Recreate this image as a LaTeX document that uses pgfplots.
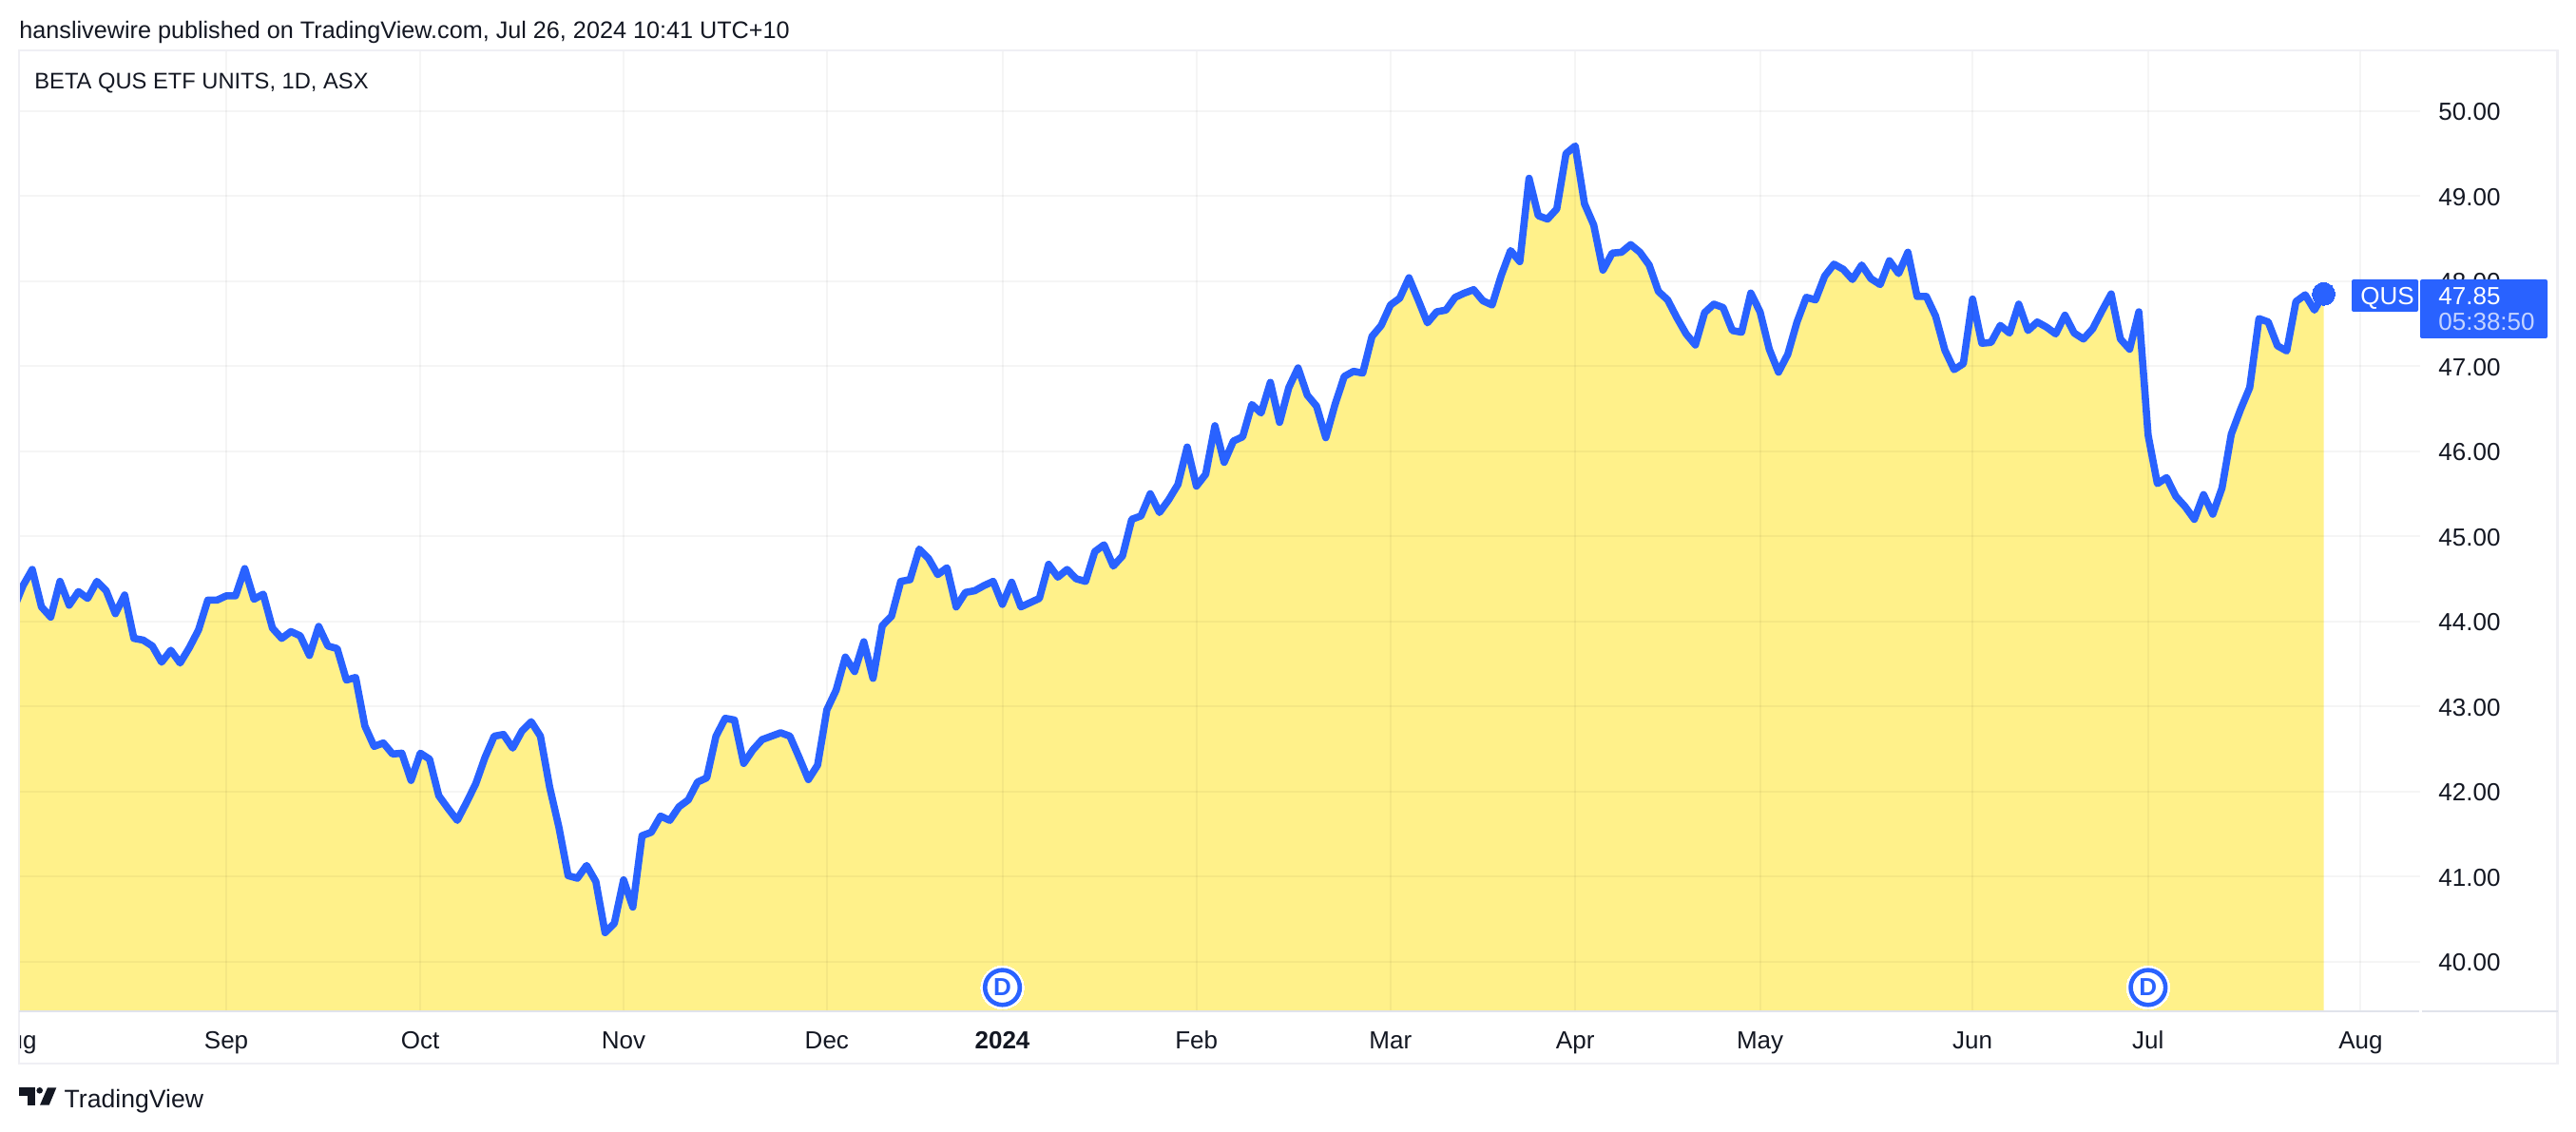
\documentclass[border=0pt]{standalone}
\usepackage{pgfplots}
\usepackage{pgfplotstable}
\usepackage{fontspec}
\pgfplotsset{compat=1.18}
\setmainfont{Liberation Sans}
\definecolor{tvblue}{HTML}{2962FF}
\definecolor{tvtext}{HTML}{131722}
\definecolor{tvgrid}{HTML}{EFEFF4}
\definecolor{tvaxis}{HTML}{E0E3EB}
\definecolor{tvfill}{HTML}{FFF18A}
\definecolor{tvsub}{HTML}{C5D4FF}
\pgfplotstableread{
i p
-1 44.15
0 44.42
1 44.61
2 44.17
3 44.05
4 44.47
5 44.19
6 44.35
7 44.27
8 44.47
9 44.36
10 44.09
11 44.31
12 43.80
13 43.78
14 43.71
15 43.52
16 43.66
17 43.51
18 43.69
19 43.90
20 44.25
21 44.25
22 44.30
23 44.30
24 44.62
25 44.26
26 44.32
27 43.92
28 43.80
29 43.88
30 43.83
31 43.60
32 43.94
33 43.71
34 43.68
35 43.31
36 43.34
37 42.77
38 42.53
39 42.57
40 42.44
41 42.45
42 42.13
43 42.45
44 42.38
45 41.95
46 41.80
47 41.66
48 41.87
49 42.09
50 42.40
51 42.65
52 42.67
53 42.51
54 42.71
55 42.82
56 42.65
57 42.05
58 41.58
59 41.01
60 40.98
61 41.13
62 40.94
63 40.34
64 40.45
65 40.96
66 40.64
67 41.48
68 41.52
69 41.71
70 41.66
71 41.82
72 41.90
73 42.11
74 42.16
75 42.65
76 42.86
77 42.84
78 42.33
79 42.49
80 42.61
81 42.65
82 42.69
83 42.65
84 42.40
85 42.14
86 42.31
87 42.96
88 43.19
89 43.58
90 43.41
91 43.76
92 43.33
93 43.95
94 44.06
95 44.47
96 44.49
97 44.85
98 44.74
99 44.55
100 44.63
101 44.17
102 44.34
103 44.36
104 44.42
105 44.47
106 44.20
107 44.46
108 44.17
109 44.22
110 44.27
111 44.67
112 44.52
113 44.61
114 44.50
115 44.47
116 44.82
117 44.90
118 44.65
119 44.77
120 45.20
121 45.24
122 45.50
123 45.28
124 45.43
125 45.61
126 46.05
127 45.59
128 45.73
129 46.30
130 45.87
131 46.12
132 46.17
133 46.55
134 46.45
135 46.81
136 46.34
137 46.75
138 46.98
139 46.66
140 46.53
141 46.16
142 46.55
143 46.88
144 46.94
145 46.92
146 47.35
147 47.48
148 47.72
149 47.80
150 48.04
151 47.78
152 47.51
153 47.64
154 47.66
155 47.81
156 47.86
157 47.90
158 47.77
159 47.72
160 48.07
161 48.36
162 48.23
163 49.21
164 48.77
165 48.73
166 48.85
167 49.50
168 49.59
169 48.91
170 48.66
171 48.13
172 48.33
173 48.34
174 48.43
175 48.34
176 48.19
177 47.88
178 47.78
179 47.57
180 47.38
181 47.25
182 47.63
183 47.73
184 47.69
185 47.42
186 47.40
187 47.86
188 47.64
189 47.20
190 46.93
191 47.14
192 47.52
193 47.81
194 47.78
195 48.06
196 48.20
197 48.14
198 48.02
199 48.19
200 48.03
201 47.96
202 48.24
203 48.09
204 48.34
205 47.82
206 47.82
207 47.59
208 47.19
209 46.96
210 47.03
211 47.79
212 47.27
213 47.28
214 47.48
215 47.39
216 47.73
217 47.42
218 47.52
219 47.46
220 47.38
221 47.60
222 47.39
223 47.32
224 47.44
225 47.65
226 47.85
227 47.32
228 47.20
229 47.64
230 46.19
231 45.62
232 45.69
233 45.47
234 45.35
235 45.20
236 45.49
237 45.26
238 45.57
239 46.20
240 46.49
241 46.75
242 47.56
243 47.52
244 47.24
245 47.18
246 47.76
247 47.84
248 47.66
249 47.85
}\qusdata
\pgfplotstableread{
i p
106 39.695
230 39.695
}\divdata
\begin{document}
\fontsize{13}{15.6}\selectfont
\begin{tikzpicture}[font=\fontsize{13}{15.6}\selectfont,text=tvtext]
\useasboundingbox (0,0) rectangle (1355pt,595pt);
\begin{axis}[
  at={(10pt,63pt)}, anchor=south west,
  scale only axis, width=1263pt, height=505.5pt,
  xmin=-0.432, xmax=259.44, ymin=39.415, ymax=50.714,
  axis line style={draw=none},
  axis on top,
  major tick length=0pt,
  xtick={22,43,65,87,106,127,148,168,188,211,230,253},
  xticklabels={Sep,Oct,Nov,Dec,\textbf{2024},Feb,Mar,Apr,May,Jun,Jul,Aug},
  ytick={40,41,42,43,44,45,46,47,48,49,50},
  yticklabel pos=right,
  grid=major,
  grid style={draw=black,draw opacity=0.04,line width=1pt},
  /pgf/number format/assume math mode=true,
  /pgf/number format/fixed, /pgf/number format/fixed zerofill, /pgf/number format/precision=2,
  yticklabel style={anchor=west,inner sep=0pt,xshift=9.5pt,yshift=-0.5pt,font=\fontsize{13}{15.6}\selectfont,text=tvtext},
  xticklabel style={anchor=base,yshift=-19.6pt,font=\fontsize{13}{15.6}\selectfont,text=tvtext},
  clip=true,
]
\addplot[draw=none,fill=tvfill] table[x=i,y=p]{\qusdata} \closedcycle;
\addplot[tvblue,line width=3.8pt,line join=round,line cap=round] table[x=i,y=p]{\qusdata};
\addplot[tvblue,only marks,mark=*,mark size=6pt,mark options={solid,draw=tvblue,fill=tvblue,line width=0pt}] coordinates {(249,47.85)};
\addplot[white,only marks,mark=*,mark size=11.35pt,mark options={solid,draw=white,fill=white,line width=0pt}] table[x=i,y=p]{\divdata};
\addplot[tvblue,only marks,mark=*,mark size=9.15pt,mark options={solid,draw=tvblue,fill=white,line width=2.3pt},
  nodes near coords={\textbf{D}},
  every node near coord/.append style={anchor=center,inner sep=0pt,text=tvblue,font=\fontsize{13}{15.6}\selectfont}] table[x=i,y=p]{\divdata};
\end{axis}
% frame
\draw[tvgrid,line width=1.2pt] (10pt,568.5pt) -- (1345.3pt,568.5pt) -- (1345.3pt,35.5pt) -- (10pt,35.5pt) -- cycle;
\draw[tvaxis,line width=1.2pt] (10pt,63pt) -- (1272.5pt,63pt);
\draw[tvaxis,line width=1.2pt] (1274pt,63pt) -- (1345.3pt,63pt);
% clipped first month label
\begin{scope}
\clip (10.6pt,30pt) rectangle (40pt,62pt);
\node[anchor=base,inner sep=0pt] at (7.75pt,43.45pt) {Aug};
\end{scope}
% header
\node[anchor=base west,inner sep=0pt,font=\fontsize{12.6}{15}\selectfont] at (10pt,574.5pt) {hanslivewire published on TradingView.com, Jul 26, 2024 10:41 UTC+10};
\node[anchor=base west,inner sep=0pt,font=\fontsize{11.85}{14.4}\selectfont] at (18pt,548.3pt) {BETA QUS ETF UNITS, 1D, ASX};
% price labels
\fill[tvblue,rounded corners=1pt] (1237pt,431pt) rectangle (1272pt,448pt);
\fill[tvblue,rounded corners=1pt] (1273pt,417pt) rectangle (1340pt,448pt);
\node[anchor=base west,inner sep=0pt,text=white] at (1241.5pt,434.7pt) {QUS};
\node[anchor=base west,inner sep=0pt,text=white] at (1282.5pt,434.7pt) {47.85};
\node[anchor=base west,inner sep=0pt,text=tvsub] at (1282.5pt,421pt) {05:38:50};
% footer
\fill[tvtext] (10pt,22.85pt) rectangle (18.65pt,18.65pt);
\fill[tvtext] (14.65pt,22.85pt) rectangle (18.65pt,13.65pt);
\fill[tvtext] (20.85pt,21.35pt) circle (1.65pt);
\fill[tvtext] (25pt,22.85pt) -- (29.67pt,22.85pt) -- (25.83pt,13.65pt) -- (21pt,13.65pt) -- cycle;
\node[anchor=base west,inner sep=0pt,font=\fontsize{13.3}{16}\selectfont] at (33.65pt,12.5pt) {TradingView};
\end{tikzpicture}
\end{document}
